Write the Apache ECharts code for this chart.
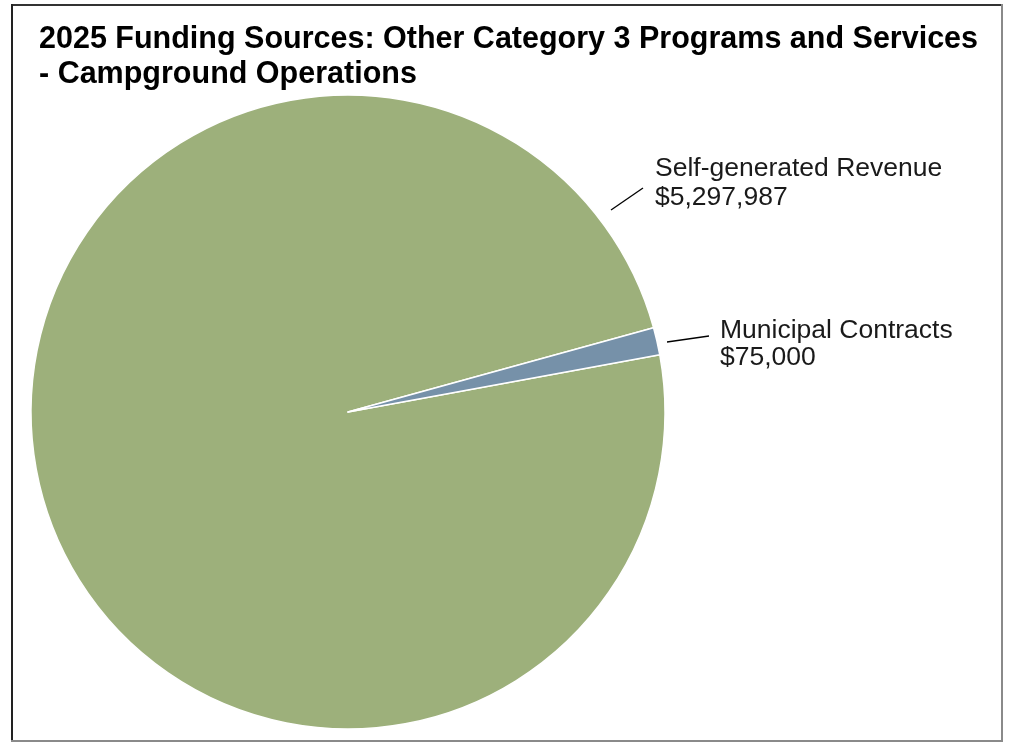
<!DOCTYPE html>
<html>
<head>
<meta charset="utf-8">
<script src="https://cdn.jsdelivr.net/npm/echarts@6/dist/echarts.min.js"></script>
<style>
  html, body { margin: 0; padding: 0; background: #fff; }
  #chart { width: 1012px; height: 743px; }
</style>
</head>
<body>
<div id="chart"></div>
<script>
// Funding sources for campground operations, 2025
const titleText = '2025 Funding Sources: Other Category 3 Programs and Services\n- Campground Operations';
const categories = ['Self-generated Revenue', 'Municipal Contracts'];
const amounts = [5297987, 75000];
const sliceColors = ['#9db07b', '#7691a9'];

// label anchor (text left / vertical centre), line height and leader line ends per slice
const labelSpots = [
  { x: 655, y: 183, lh: 29, line: [[611, 210], [643, 188]] },
  { x: 720, y: 344, lh: 27, line: [[667, 342], [709, 336]] }
];

const fmt = v => '$' + v.toLocaleString('en-US');

const chart = echarts.init(document.getElementById('chart'));
chart.setOption({
  backgroundColor: '#ffffff',
  animation: false,
  title: {
    text: titleText,
    left: 34,
    top: 17,
    textStyle: {
      fontFamily: 'Liberation Sans, Arial, sans-serif',
      fontWeight: 'bold',
      fontSize: 30.5,
      lineHeight: 35,
      color: '#000'
    }
  },
  graphic: [
    // chart frame
    { type: 'line', shape: { x1: 11, y1: 5, x2: 1002, y2: 5 }, style: { stroke: '#333', lineWidth: 2 } },
    { type: 'line', shape: { x1: 12, y1: 4, x2: 12, y2: 742 }, style: { stroke: '#222', lineWidth: 2 } },
    { type: 'line', shape: { x1: 1002, y1: 4, x2: 1002, y2: 742 }, style: { stroke: '#8a8a8a', lineWidth: 2 } },
    { type: 'line', shape: { x1: 11, y1: 741, x2: 1003, y2: 741 }, style: { stroke: '#8a8a8a', lineWidth: 2 } }
  ],
  series: [{
    type: 'pie',
    center: [348, 412],
    radius: 317,
    startAngle: 10.4,
    clockwise: true,
    silent: true,
    avoidLabelOverlap: false,
    itemStyle: { borderColor: '#ffffff', borderWidth: 1.5 },
    data: categories.map((name, i) => ({
      name,
      value: amounts[i],
      itemStyle: { color: sliceColors[i] },
      label: { lineHeight: labelSpots[i].lh }
    })),
    label: {
      show: true,
      position: 'outside',
      overflow: 'none',
      formatter: p => p.name + '\n' + fmt(p.value),
      fontFamily: 'Liberation Sans, Arial, sans-serif',
      fontSize: 26.5,
      color: '#1a1a1a',
      align: 'left'
    },
    labelLine: {
      show: true,
      lineStyle: { color: '#000', width: 1.3 }
    },
    labelLayout: p => {
      const s = labelSpots[p.dataIndex];
      return {
        x: s.x,
        y: s.y,
        align: 'left',
        verticalAlign: 'middle',
        hideOverlap: false,
        labelLinePoints: [s.line[0], s.line[1], s.line[1]]
      };
    }
  }]
});
</script>
</body>
</html>
